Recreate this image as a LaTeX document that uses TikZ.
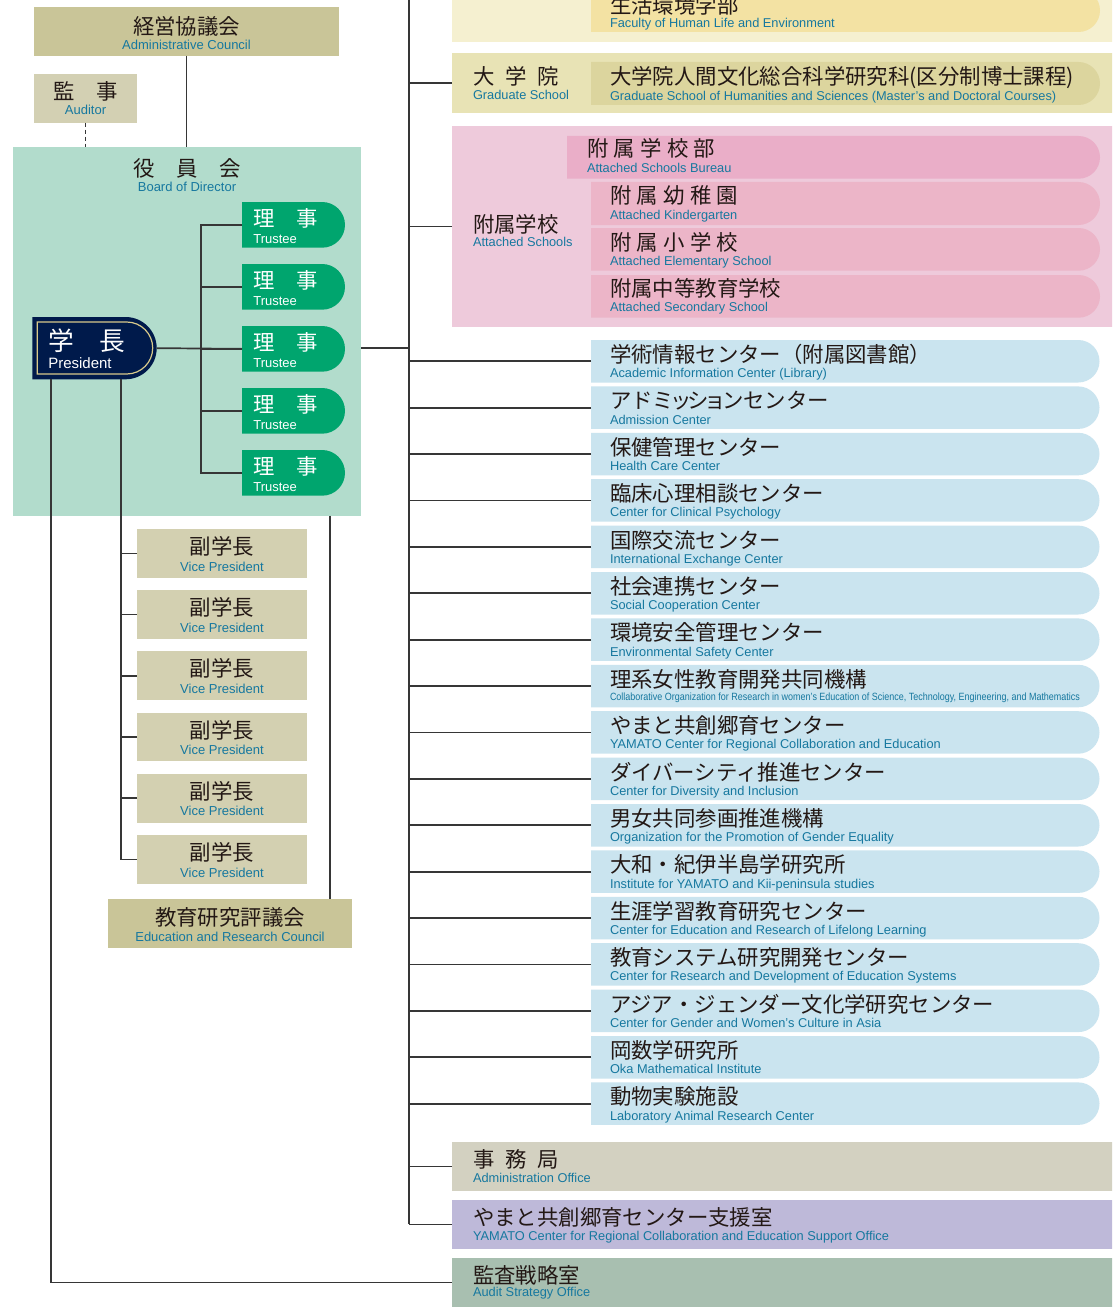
\documentclass[tikz,border=0pt]{standalone}
\usepackage{fontspec}
\setmainfont{Liberation Sans}
\newfontfamily\jpf{Noto Sans CJK JP}
\usetikzlibrary{shapes.misc}
\definecolor{cAC}{HTML}{C9C598}
\definecolor{cAud}{HTML}{D3D0B3}
\definecolor{cBoard}{HTML}{B2DCCC}
\definecolor{cTr}{HTML}{00A56E}
\definecolor{cNavy}{HTML}{001A4B}
\definecolor{cGold}{HTML}{D8C98A}
\definecolor{cVP}{HTML}{D3D0B1}
\definecolor{cC}{HTML}{CAE4EF}
\definecolor{cFacO}{HTML}{F5F0D0}
\definecolor{cFacI}{HTML}{F3E2A3}
\definecolor{cGrO}{HTML}{E8E3B5}
\definecolor{cGrI}{HTML}{DCD59E}
\definecolor{cPkO}{HTML}{EECADB}
\definecolor{cPkB}{HTML}{EAAEC8}
\definecolor{cPkS}{HTML}{ECB5C8}
\definecolor{cAO}{HTML}{D3D1C1}
\definecolor{cYS}{HTML}{BEB9D9}
\definecolor{cAS}{HTML}{A8BFB0}
\definecolor{jtext}{HTML}{231815}
\definecolor{etext}{HTML}{16789F}
\definecolor{linec}{HTML}{363636}
\begin{document}
\begin{tikzpicture}[x=1pt,y=-1pt,
  rect/.style n args={4}{minimum width={(#3)-(#1)}, minimum height={(#4)-(#2)}, at={({((#1)+(#3))/2},{((#2)+(#4))/2})}},
  box/.style={draw=none, inner sep=0pt, outer sep=0pt, rectangle},
  rbox/.style={draw=none, inner sep=0pt, outer sep=0pt, rounded rectangle, rounded rectangle west arc=none},
  ln/.style={draw=linec, line width=1.7pt},
  dln/.style={draw=linec, line width=1.6pt, dash pattern=on 4pt off 3pt},
  jt/.style={font=\jpf\fontsize{21.4}{24}\selectfont, text=jtext, inner sep=0pt, outer sep=0pt},
  et/.style={font=\fontsize{13}{15}\selectfont, text=etext, inner sep=0pt, outer sep=0pt},
  er/.style={et, font=\fontsize{12.8}{14}\selectfont, anchor=base west},
  ]
\useasboundingbox (0,0) rectangle (1112,1308);
\clip (0,0) rectangle (1112,1308);
\fill[white] (0,0) rectangle (1112,1308);

% ---------- left side boxes ----------
\node[box, fill=cAC, rect={34}{7}{339}{55.7}] (ac) {};
\node[box, fill=cAud, rect={34}{74}{137}{122.7}] (aud) {};
\node[box, fill=cBoard, rect={13}{147}{361}{515.7}] (board) {};
\node[rbox, fill=cNavy, rect={32.3}{317}{156.7}{379.3}] (pres) {};
\node[rbox, draw=cGold, line width=1.2pt, rect={37.3}{322}{152.7}{374}] (presin) {};
\foreach \i in {1,...,5}{
  \pgfmathsetmacro\tp{202+62*(\i-1)}
  \node[rbox, fill=cTr, rect={242}{\tp}{345}{\tp+45.7}] (t\i) {};
}
\foreach \i in {1,...,6}{
  \pgfmathsetmacro\tp{529+61.2*(\i-1)}
  \node[box, fill=cVP, rect={137}{\tp}{307}{\tp+48.7}] (vp\i) {};
}
\node[box, fill=cAC, rect={108}{899}{351.7}{947.7}] (ec) {};

% ---------- right side boxes ----------
\node[box, fill=cFacO, rect={452}{-20}{1120}{42}] (fac) {};
\node[rbox, fill=cFacI, rect={591}{-11}{1100}{32}] (facin) {};
\node[box, fill=cGrO, rect={452}{53.3}{1120}{113.3}] (grad) {};
\node[rbox, fill=cGrI, rect={591}{62}{1100}{105}] (gradin) {};
\node[box, fill=cPkO, rect={452}{126}{1120}{326.7}] (att) {};
\node[rbox, fill=cPkB, rect={567}{136}{1100}{178.7}] (bur) {};
\node[rbox, fill=cPkS, rect={591}{182}{1100}{225}] (kg) {};
\node[rbox, fill=cPkS, rect={591}{228}{1100}{270.7}] (elem) {};
\node[rbox, fill=cPkS, rect={591}{275}{1100}{317.7}] (sec) {};
\node[box, fill=cAO, rect={452}{1142}{1120}{1190.7}] (ao) {};
\node[box, fill=cYS, rect={452}{1200}{1120}{1248.7}] (ys) {};
\node[box, fill=cAS, rect={452}{1258}{1120}{1306.7}] (aso) {};

% ---------- helper coordinates ----------
\coordinate (mtop) at (409,0);
\coordinate (tb) at (201,0);
\coordinate (pl) at (50.7,0);
\coordinate (vl) at (120.7,0);
\coordinate (el) at (330,0);

% ---------- connectors ----------
\draw[ln] (ac.south) -- (ac.south |- board.north);
\draw[dln] (aud.south) -- (aud.south |- board.north);
\draw[ln] (pres.east) -- (t3.west);
\draw[ln] (t1.west) -- (t1.west -| tb) -- (t5.west -| tb) -- (t5.west);
\foreach \i in {2,3,4}{ \draw[ln] (t\i.west) -- (t\i.west -| tb); }
\draw[ln] (board.east |- pres.east) -- (pres.east -| mtop);
\draw[ln] (mtop) -- (ys.west -| mtop);
\draw[ln] (grad.west) -- (grad.west -| mtop);
\draw[ln] (att.west) -- (att.west -| mtop);
\draw[ln] (ao.west) -- (ao.west -| mtop);
\draw[ln] (ys.west) -- (ys.west -| mtop);
\draw[ln] (pres.south -| pl) |- (aso.west);
\draw[ln] (pres.south -| vl) |- (vp6.west);
\foreach \i in {1,...,5}{ \draw[ln] (vp\i.west) -- (vp\i.west -| vl); }
\draw[ln] (board.south -| el) -- (ec.north -| el);

% ---------- centres ----------
\foreach \j/\e/\o [count=\i from 0] in {
 {学術情報センター（附属図書館）}/{Academic Information Center (Library)}/37.7,
 {アドミ\kern-0.19em ッ\kern-0.19em シ\kern-0.19em ョ\kern-0.19em ンセンター}/{Admission Center}/37.7,
 {保健管理センター}/{Health Care Center}/37.7,
 {臨床心理相談センター}/{Center for Clinical Psychology}/37.7,
 {国際交流センター}/{International Exchange Center}/37.7,
 {社会連携センター}/{Social Cooperation Center}/37.7,
 {環境安全管理センター}/{Environmental Safety Center}/37.7,
 {理系女性教育開発共同機構}/{\fontsize{10.5}{12}\selectfont\resizebox{470pt}{\height}{Collaborative Organization for Research in women's Education of Science, Technology, Engineering, and Mathematics}}/36,
 {やまと共創郷育センター}/{YAMATO Center for Regional Collaboration and Education}/37.7,
 {ダイバーシティ推進センター}/{Center for Diversity and Inclusion}/37.7,
 {男女共同参画推進機構}/{Organization for the Promotion of Gender Equality}/37.7,
 {大和・紀伊半島学研究所}/{Institute for YAMATO and Kii-peninsula studies}/37.7,
 {生涯学習教育研究センター}/{Center for Education and Research of Lifelong Learning}/37.7,
 {教育システム研究開発センター}/{Center for Research and Development of Education Systems}/37.7,
 {アジア・ジェンダー文化学研究センター}/{Center for Gender and Women's Culture in Asia}/37.7,
 {岡数学研究所}/{Oka Mathematical Institute}/37.7,
 {動物実験施設}/{Laboratory Animal Research Center}/37.7}{
  \pgfmathsetmacro\tp{340+46.4*\i}
  \node[rbox, fill=cC, rect={591}{\tp}{1099.5}{\tp+42.5}] (c\i) {};
  \draw[ln] (c\i.west) -- (c\i.west -| mtop);
  \node[jt, anchor=base west] (cj\i) at (610,\tp+22.5) {\j};
  \node[er] (ce\i) at (610,\tp+\o) {\e};
}

% ---------- texts left ----------
\node[jt, anchor=base] (acj) at (186.5,34.5) {経営協議会};
\node[et, anchor=base] (ace) at (186.5,50) {Administrative Council};
\node[jt, anchor=base] (audj) at (85.5,99.5) {監　事};
\node[et, anchor=base] (aude) at (85.5,115) {Auditor};
\node[jt, anchor=base] (bj) at (187,176.5) {役　員　会};
\node[et, anchor=base] (be) at (187,191.7) {Board of Director};
\node[jt, text=white, font=\jpf\fontsize{25.7}{28}\selectfont, anchor=base west] (pj) at (48.3,350.5) {学　長};
\node[et, text=white, font=\fontsize{15}{17}\selectfont, anchor=base west] (pe) at (48.3,368.3) {President};
\foreach \i in {1,...,5}{
  \pgfmathsetmacro\tp{202+62*(\i-1)}
  \node[jt, text=white, anchor=base west] (tj\i) at (253.3,\tp+24) {理　事};
  \node[et, text=white, anchor=base west] (te\i) at (253.3,\tp+41.3) {Trustee};
}
\foreach \i in {1,...,6}{
  \pgfmathsetmacro\tp{529+61.2*(\i-1)}
  \node[jt, anchor=base] (vj\i) at (222,\tp+25.5) {副学長};
  \node[et, anchor=base] (ve\i) at (222,\tp+42) {Vice President};
}
\node[jt, anchor=base] (ecj) at (230,925.5) {教育研究評議会};
\node[et, anchor=base] (ece) at (230,941) {Education and Research Council};

% ---------- texts right ----------
\node[jt, anchor=base west] (facj) at (610,13.5) {生活環境学部};
\node[er] (face) at (610,28) {Faculty of Human Life and Environment};
\node[jt, anchor=base west] (grj) at (473,85) {大\hspace{0.5em}学\hspace{0.5em}院};
\node[er] (gre) at (473,100) {Graduate School};
\node[jt, anchor=base west] (grij) at (610,85) {大学院人間文化総合科学研究科(区分制博士課程)};
\node[er] (grie) at (610,101) {Graduate School of Humanities and Sciences (Master's and Doctoral Courses)};
\node[jt, anchor=base west] (attj) at (473,232) {附属学校};
\node[er] (atte) at (473,246) {Attached Schools};
\node[jt, anchor=base west] (burj) at (587,157) {附\hspace{0.25em}属\hspace{0.25em}学\hspace{0.25em}校\hspace{0.25em}部};
\node[er] (bure) at (587,172.7) {Attached Schools Bureau};
\node[jt, anchor=base west] (kgj) at (610,204) {附\hspace{0.25em}属\hspace{0.25em}幼\hspace{0.25em}稚\hspace{0.25em}園};
\node[er] (kge) at (610,219) {Attached Kindergarten};
\node[jt, anchor=base west] (elj) at (610,250) {附\hspace{0.25em}属\hspace{0.25em}小\hspace{0.25em}学\hspace{0.25em}校};
\node[er] (ele) at (610,265.7) {Attached Elementary School};
\node[jt, anchor=base west] (secj) at (610,296) {附属中等教育学校};
\node[er] (sece) at (610,311.7) {Attached Secondary School};
\node[jt, anchor=base west] (aoj) at (473,1167) {事\hspace{0.5em}務\hspace{0.5em}局};
\node[er] (aoe) at (473,1182) {Administration Office};
\node[jt, anchor=base west] (ysj) at (473,1225.5) {やまと共創郷育センター支援室};
\node[er] (yse) at (473,1240) {YAMATO Center for Regional Collaboration and Education Support Office};
\node[jt, anchor=base west] (asj) at (473,1283) {監査戦略室};
\node[er] (ase) at (473,1296.7) {Audit Strategy Office};
\end{tikzpicture}
\end{document}
